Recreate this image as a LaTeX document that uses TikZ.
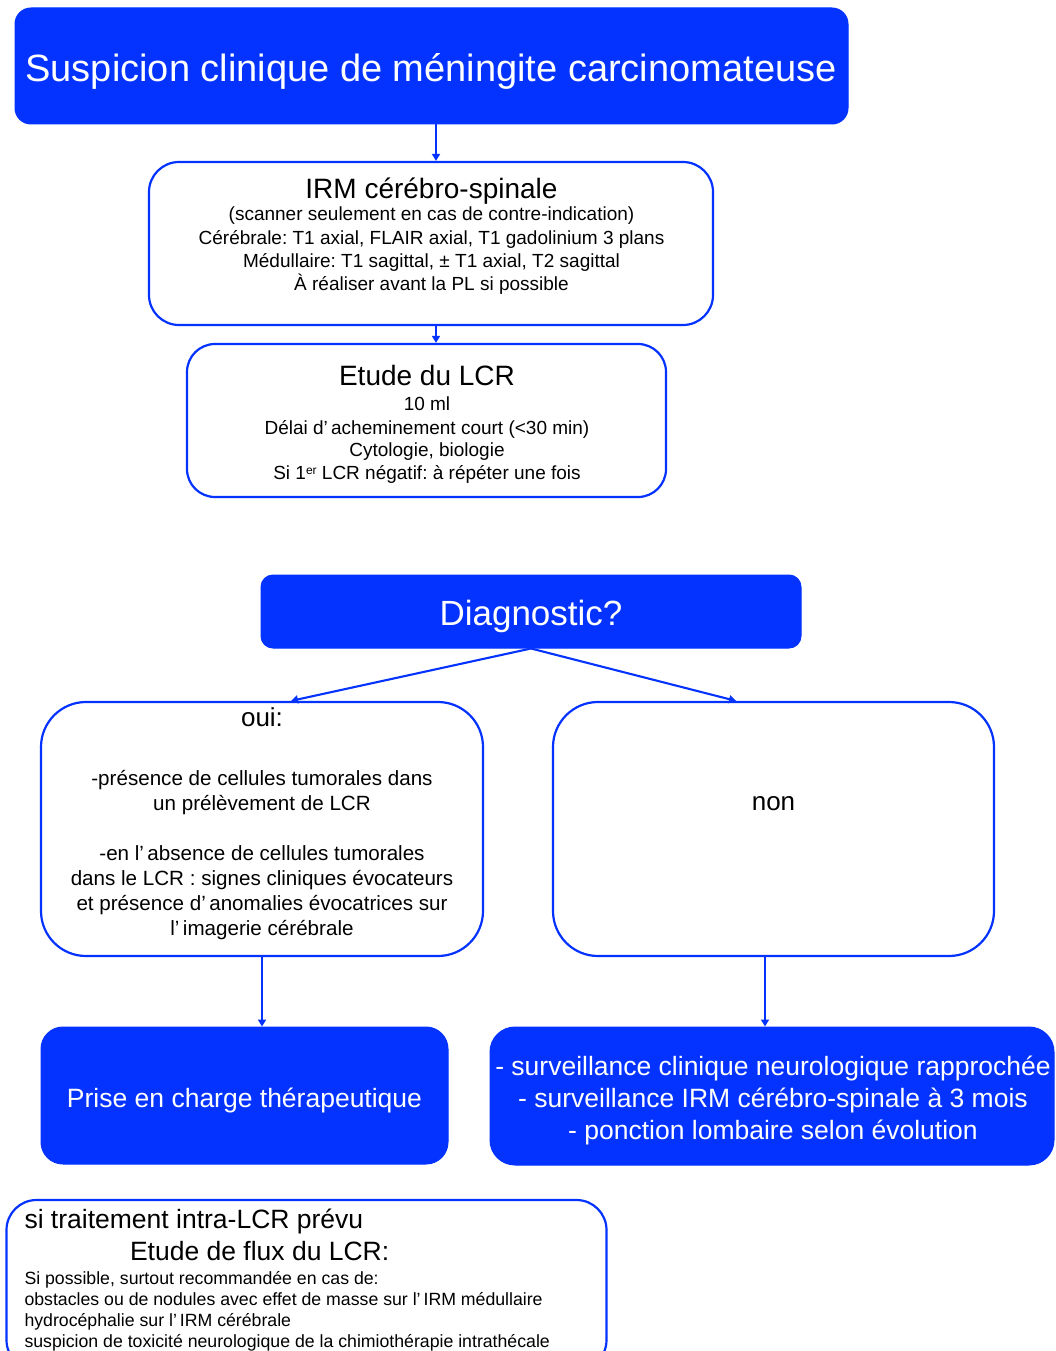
\documentclass[tikz,border=0pt]{standalone}
\usepackage{fontspec}
\setmainfont{Liberation Sans}
\frenchspacing
\usetikzlibrary{arrows.meta}
\definecolor{myblue}{RGB}{4,51,255}
\newcommand{\fs}[1]{\fontsize{#1}{#1}\selectfont}
\tikzset{
  bluebox/.style={draw=myblue, fill=myblue, line width=1pt, rounded corners=#1, inner sep=0pt},
  whitebox/.style={draw=myblue, fill=white, line width=2.2pt, rounded corners=#1, inner sep=0pt},
  txt/.style={anchor=base, inner sep=0pt, outer sep=0pt},
  ltxt/.style={anchor=base west, inner sep=0pt, outer sep=0pt},
  wtxt/.style={txt, text=white},
  arr/.style={draw=myblue, line width=2.1pt, -{Triangle[length=7pt,width=8pt]}}
}
\begin{document}
\begin{tikzpicture}[x=1pt,y=1pt]
\useasboundingbox (0,0) rectangle (1055,-1351);
% boxes
\node[bluebox=16pt, minimum width=833pt, minimum height=116pt] (top) at (431.5,-66) {};
\node[whitebox=30pt, minimum width=564pt, minimum height=163pt] (irm) at (431,-243.5) {};
\node[whitebox=28pt, minimum width=479pt, minimum height=153pt] (lcr) at (426.5,-420.5) {};
\node[bluebox=12pt, minimum width=540pt, minimum height=73pt] (diag) at (531,-611.5) {};
\node[whitebox=45pt, minimum width=442pt, minimum height=254pt] (oui) at (262,-829) {};
\node[whitebox=45pt, minimum width=441pt, minimum height=254pt] (non) at (773.5,-829) {};
\node[bluebox=22pt, minimum width=407pt, minimum height=137pt] (prise) at (244.5,-1095.5) {};
\node[bluebox=25pt, minimum width=564pt, minimum height=138pt] (surv) at (772,-1096) {};
\node[whitebox=30pt, minimum width=600pt, minimum height=170pt] (flux) at (306.5,-1285) {};
% texts
\node[wtxt, font=\fs{38}] (topT) at (431,-82) {Suspicion clinique de méningite carcinomateuse};
\node[txt, font=\fs{28}] (irmT) at (431.5,-198) {IRM cérébro-spinale};
\node[txt, font=\fs{19}] (irm1) at (431.5,-220) {(scanner seulement en cas de contre-indication)};
\node[txt, font=\fs{19}] (irm2) at (431.5,-244) {Cérébrale: T1 axial, FLAIR axial, T1 gadolinium 3 plans};
\node[txt, font=\fs{19}] (irm3) at (431.5,-267) {Médullaire: T1 sagittal, ± T1 axial, T2 sagittal};
\node[txt, font=\fs{19}] (irm4) at (431.5,-290) {À réaliser avant la PL si possible};
\node[txt, font=\fs{28}] (lcrT) at (427,-385) {Etude du LCR};
\node[txt, font=\fs{19}] (lcr1) at (427,-410) {10 ml};
\node[txt, font=\fs{19}] (lcr2) at (427,-434) {Délai d’\,acheminement court (<30 min)};
\node[txt, font=\fs{19}] (lcr3) at (427,-456) {Cytologie, biologie};
\node[txt, font=\fs{19}] (lcr4) at (427,-479) {Si 1\raisebox{0.45ex}{\fs{12}er} LCR négatif: à répéter une fois};
\node[wtxt, font=\fs{35}] (diagT) at (531,-625) {Diagnostic?};
\node[txt, font=\fs{26}] (ouiT) at (262,-726) {oui:};
\node[txt, font=\fs{20.6}] (oui1) at (262,-785) {-présence de cellules tumorales dans};
\node[txt, font=\fs{20.6}] (oui2) at (262,-810) {un prélèvement de LCR};
\node[txt, font=\fs{20.6}] (oui3) at (262,-860) {-en l’\,absence de cellules tumorales};
\node[txt, font=\fs{20.6}] (oui4) at (262,-885) {dans le LCR : signes cliniques évocateurs};
\node[txt, font=\fs{20.6}] (oui5) at (262,-910) {et présence d’\,anomalies évocatrices sur};
\node[txt, font=\fs{20.6}] (oui6) at (262,-935) {l’\,imagerie cérébrale};
\node[txt, font=\fs{26}] (nonT) at (773.5,-810) {non};
\node[wtxt, font=\fs{26.5}] (priseT) at (244.5,-1107) {Prise en charge thérapeutique};
\node[wtxt, font=\fs{26.5}] (surv1) at (773,-1075) {- surveillance clinique neurologique rapprochée};
\node[wtxt, font=\fs{26.5}] (surv2) at (773,-1107) {- surveillance IRM cérébro-spinale à 3 mois};
\node[wtxt, font=\fs{26.5}] (surv3) at (773,-1139) {- ponction lombaire selon évolution};
\node[ltxt, font=\fs{26.5}] (fluxA) at (24.5,-1228) {si traitement intra-LCR prévu};
\node[ltxt, font=\fs{26.5}] (fluxB) at (130,-1260) {Etude de flux du LCR:};
\node[ltxt, font=\fs{17.7}] (flux1) at (24.5,-1284) {Si possible, surtout recommandée en cas de:};
\node[ltxt, font=\fs{17.7}] (flux2) at (24.5,-1305) {obstacles ou de nodules avec effet de masse sur l’\,IRM médullaire};
\node[ltxt, font=\fs{17.7}] (flux3) at (24.5,-1326) {hydrocéphalie sur l’\,IRM cérébrale};
\node[ltxt, font=\fs{17.7}] (flux4) at (24.5,-1347) {suspicion de toxicité neurologique de la chimiothérapie intrathécale};
% connectors
\draw[arr] ([xshift=4.5pt]top.south) -- ([xshift=4.5pt]top.south |- irm.north);
\draw[arr] ([xshift=5pt]irm.south) -- ([xshift=5pt]irm.south |- lcr.north);
\draw[arr] (diag.south) -- ([xshift=29pt]oui.north);
\draw[arr] (diag.south) -- ([xshift=-37.5pt]non.north);
\draw[arr] (oui.south) -- (oui.south |- prise.north);
\draw[arr] ([xshift=-8.5pt]non.south) -- ([xshift=-8.5pt]non.south |- surv.north);
\end{tikzpicture}
\end{document}
